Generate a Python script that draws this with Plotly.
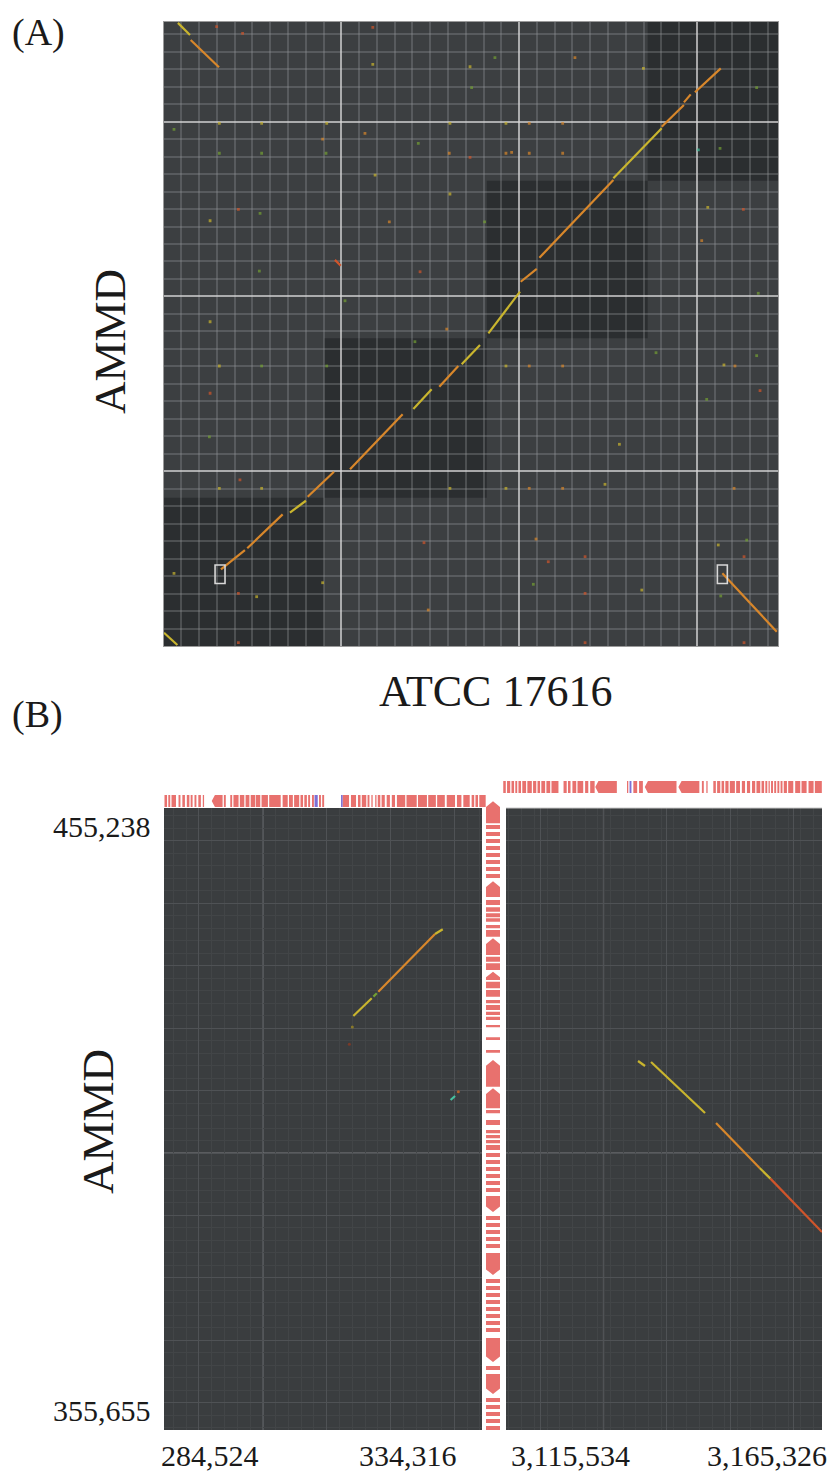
import plotly.graph_objects as go

W, H = 831, 1472
def fx(p):
    return p / W
def fy(p):
    return 1 - p / H

SERIF = "Liberation Serif, Times New Roman, serif"

# ---------------- Panel A data (Mb) ----------------
A_X_RANGE = [0, 3.456]
A_Y_RANGE = [0, 3.57]
A_BLOCK_X = [0, 0.904, 1.818, 2.723, 3.456]
A_BLOCK_Y = [0, 0.848, 1.760, 2.662, 3.57]

# alignment segments (x0, y0, x1, y1, colour key)
A_SEGMENTS = [
    (0.323, 0.439, 0.458, 0.549, "o"),
    (0.471, 0.559, 0.670, 0.753, "o"),
    (0.711, 0.763, 0.801, 0.831, "y"),
    (0.811, 0.854, 0.959, 0.997, "o"),
    (1.049, 1.011, 1.345, 1.326, "o"),
    (1.405, 1.356, 1.508, 1.469, "y"),
    (1.551, 1.483, 1.658, 1.602, "o"),
    (1.677, 1.612, 1.780, 1.722, "y"),
    (1.827, 1.789, 2.005, 2.027, "y"),
    (2.009, 2.084, 2.099, 2.157, "o"),
    (2.114, 2.221, 2.530, 2.666, "o"),
    (2.530, 2.676, 2.802, 2.962, "y"),
    (2.802, 2.971, 2.927, 3.095, "o"),
    (2.927, 3.110, 2.965, 3.156, "o"),
    (2.989, 3.168, 3.134, 3.305, "o"),
    (0.081, 3.565, 0.149, 3.496, "y"),
    (0.153, 3.467, 0.312, 3.311, "o"),
    (3.143, 0.416, 3.300, 0.245, "o"),
    (3.300, 0.245, 3.449, 0.082, "o"),
    (0.003, 0.076, 0.078, 0.006, "y"),
    (0.964, 2.209, 0.997, 2.176, "r"),
]

# isolated hits (x, y, colour key)
A_DOTS = [
    (0.299, 3.543, "r"), (0.445, 3.505, "r"), (1.177, 3.539, "r"), (1.177, 3.328, "y"),
    (1.724, 3.314, "y"), (1.733, 3.194, "g"), (0.314, 2.990, "y"), (0.552, 2.990, "y"),
    (0.918, 2.990, "y"), (1.611, 2.990, "y"), (0.059, 2.956, "g"), (0.314, 2.819, "g"),
    (0.552, 2.819, "g"), (0.914, 2.819, "g"), (1.607, 2.819, "o"), (1.433, 2.876, "g"),
    (1.190, 2.694, "y"), (0.421, 2.498, "r"), (0.262, 2.433, "y"), (0.543, 2.475, "g"),
    (0.895, 2.900, "o"), (1.443, 2.141, "r"), (0.539, 2.145, "g"), (1.611, 2.586, "y"),
    (0.262, 1.855, "y"), (1.593, 1.813, "o"), (1.724, 2.796, "r"), (1.133, 2.933, "o"),
    (1.270, 2.427, "o"), (1.021, 1.975, "g"),
    (1.864, 3.366, "g"), (2.314, 3.366, "o"), (1.926, 2.990, "y"), (2.057, 2.990, "o"),
    (2.245, 2.990, "o"), (1.926, 2.819, "o"), (1.958, 2.824, "o"), (2.057, 2.819, "o"),
    (2.245, 2.819, "o"), (3.008, 2.838, "c"), (3.130, 2.847, "g"), (3.061, 2.510, "y"),
    (3.261, 2.498, "r"), (3.027, 2.319, "o"), (3.345, 2.018, "g"), (2.699, 3.305, "y"),
    (3.336, 3.194, "g"), (1.806, 2.427, "g"),
    (0.314, 1.602, "y"), (0.552, 1.602, "g"), (0.918, 1.602, "g"), (0.314, 0.902, "y"),
    (0.552, 0.902, "y"), (1.611, 0.902, "y"), (0.421, 0.301, "r"), (0.524, 0.282, "y"),
    (0.059, 0.416, "y"), (0.421, 0.019, "r"), (1.465, 0.591, "r"), (1.489, 0.206, "o"),
    (0.258, 1.197, "g"), (0.262, 1.446, "r"), (0.430, 0.950, "r"), (1.414, 1.741, "g"),
    (0.895, 0.362, "y"),
    (1.926, 1.602, "y"), (2.057, 1.602, "o"), (2.245, 1.602, "o"), (1.926, 0.902, "y"),
    (2.057, 0.902, "o"), (2.245, 0.902, "o"), (2.483, 0.925, "y"), (2.770, 1.678, "g"),
    (3.336, 1.661, "g"), (3.152, 1.608, "y"), (3.214, 1.602, "o"), (3.355, 1.461, "r"),
    (3.055, 1.411, "g"), (2.564, 1.154, "y"), (2.371, 0.511, "r"), (2.371, 0.301, "r"),
    (2.371, 0.019, "r"), (3.265, 0.511, "r"), (3.265, 0.019, "r"), (3.120, 0.578, "y"),
    (3.280, 0.606, "g"), (3.134, 0.286, "g"), (2.690, 0.320, "y"), (2.095, 0.612, "o"),
    (2.080, 0.353, "g"), (3.209, 0.902, "o"), (2.164, 0.482, "r"),
]

# zoom boxes (x0, x1, y0, y1) in Mb
A_ZOOM_BOXES = [(0.290, 0.346, 0.358, 0.463), (3.115, 3.171, 0.358, 0.463)]

COL = {"o": "#d8872b", "y": "#c9b52e", "r": "#d0552b", "g": "#74a033", "c": "#45c2a0"}

# ---------------- Panel B data (bp) ----------------
B_Y_RANGE = [355655, 455238]
B_LEFT_RANGE = [284524, 334316]
B_RIGHT_RANGE = [3115534, 3165326]
B_Y_TICKS = ["455,238", "355,655"]
B_X_TICKS = ["284,524", "334,316", "3,115,534", "3,165,326"]

B_LEFT_SEGS = [
    (314168, 421936, 317050, 424770, "y"),
    (317311, 425037, 317843, 425571, "g"),
    (318083, 425827, 326963, 435065, "o"),
    (326963, 435065, 328168, 435817, "y"),
    (329400, 408488, 330095, 409128, "c"),
]
B_LEFT_DOTS = [(314012, 420175, "#8a7a2a"), (313542, 417406, "#7a3a28"), (330611, 409817, "#b0602a")]
B_RIGHT_SEGS = [
    (3136337, 414732, 3137440, 413931, "y"),
    (3138386, 414572, 3146896, 406407, "y"),
    (3148630, 404806, 3155500, 397600, "o"),
    (3155500, 397600, 3157200, 395900, "y"),
    (3157200, 395900, 3165326, 387355, "r"),
]

# genes (start, end, direction: 0 none, 1 forward, -1 reverse)
TOP_LEFT_GENES = [
    (284600, 285000, 0), (285200, 285500, 0), (285700, 286400, 0), (286800, 287100, 0),
    (287400, 287800, 0), (288100, 288500, 0), (288700, 289000, 0), (289300, 289600, 0),
    (289900, 290300, 0), (290600, 290800, 0), (292000, 293700, -1), (293900, 294200, 0),
    (294900, 295200, 0), (295400, 296200, 0), (296400, 297100, 0), (297300, 297900, 0),
    (298100, 298800, 0), (298900, 299600, 0), (299800, 300800, 0), (301000, 302800, 0),
    (303100, 303900, 0), (304100, 304700, 0), (304900, 305700, 0), (305900, 306300, 0),
    (306500, 306900, 0), (307100, 307400, 0), (307700, 308000, 0), (308800, 309100, 0),
    (309300, 309600, 0),
    (312500, 313500, 0), (313800, 314600, 0), (314900, 315300, 0), (315500, 316200, 0),
    (316400, 316700, 0), (317000, 317200, 0), (317600, 317800, 0), (318000, 318400, 0),
    (318600, 319100, 0), (319400, 319900, 0), (320200, 320700, 0), (321000, 322300, 0),
    (322500, 324100, 0), (324300, 325700, 0), (325900, 327100, 0), (327300, 328500, 0),
    (328800, 330100, 0), (330400, 331100, 0), (331400, 332400, 0), (332700, 333100, 0),
    (333300, 333700, 0), (333900, 334900, 0),
]
TOP_LEFT_PURPLE = [(308100, 308600, 0), (312250, 312500, 0)]

TOP_RIGHT_GENES = [
    (3115100, 3115500, 0), (3115700, 3116200, 0), (3116400, 3116800, 0), (3117000, 3117300, 0),
    (3117500, 3117900, 0), (3118100, 3118700, 0), (3118900, 3119600, 0), (3119800, 3120300, 0),
    (3120500, 3120900, 0), (3121100, 3121700, 0), (3121900, 3122500, 0), (3122700, 3123800, 0),
    (3124600, 3125100, 0), (3125300, 3125700, 0), (3126000, 3126600, 0), (3126800, 3127700, 0),
    (3128000, 3128500, 0), (3128800, 3129500, 0), (3129600, 3133000, -1), (3134600, 3134800, 0),
    (3135600, 3136200, 0), (3136500, 3137100, 0), (3137400, 3142400, -1), (3142700, 3146000, -1),
    (3146400, 3146700, 0), (3147100, 3147300, 0), (3148200, 3148600, 0), (3148800, 3149300, 0),
    (3149500, 3149900, 0), (3150100, 3150600, 0), (3150800, 3151600, 0), (3151800, 3152400, 0),
    (3152700, 3153200, 0), (3153500, 3154000, 0), (3154300, 3154800, 0), (3155000, 3155600, 0),
    (3155800, 3156200, 0), (3156400, 3156700, 0), (3156900, 3157100, 0), (3157300, 3157600, 0),
    (3157800, 3158100, 0), (3158300, 3158600, 0), (3158800, 3159100, 0), (3159300, 3159800, 0),
    (3160000, 3160800, 0), (3161100, 3161900, 0), (3162100, 3162900, 0), (3163200, 3164000, 0),
    (3164200, 3165300, 0),
]
TOP_RIGHT_PURPLE = [(3135000, 3135300, 0)]

SIDE_GENES = [
    (452800, 456300, 1),
    (451875, 452515, 0), (450754, 451394, 0), (449633, 450273, 0), (448512, 449152, 0),
    (447391, 448031, 0), (446270, 446910, 0), (445149, 445789, 0), (444028, 444668, 0),
    (441000, 443500, 1),
    (439708, 440508, 0), (438635, 439339, 0), (437738, 438379, 0), (437034, 437578, 0),
    (435977, 436506, 0), (434632, 435705, 0), (431703, 434376, 1), (430630, 431430, 0),
    (429301, 430374, 0), (427700, 429029, 1), (426371, 427428, 0), (425026, 426099, 0),
    (423970, 424498, 0), (422897, 423698, 0), (422097, 422625, 0), (421296, 421824, 0),
    (420127, 420496, 0), (418094, 418526, 0), (416061, 416493, 0), (410617, 414892, 1),
    (407159, 410361, 1), (406358, 406887, 0), (404486, 405286, 0), (403156, 403685, 0),
    (402356, 402885, 0), (401556, 402084, 0), (400483, 401284, 0),
    (399362, 400003, 0), (398241, 398882, 0), (397120, 397761, 0), (395999, 396640, 0),
    (394878, 395519, 0), (393757, 394398, 0), (390557, 393118, -1),
    (389276, 389916, 0), (388155, 388795, 0), (387034, 387674, 0), (385913, 386553, 0),
    (384792, 385432, 0), (380471, 383993, -1),
    (379190, 379830, 0), (378069, 378709, 0), (376948, 377588, 0), (375827, 376467, 0),
    (374706, 375346, 0), (373585, 374225, 0), (372464, 373104, 0), (371343, 371983, 0),
    (366542, 370384, -1), (365261, 365901, 0), (361419, 364621, -1),
    (360138, 360778, 0), (359017, 359657, 0), (357896, 358536, 0), (356775, 357415, 0),
    (355655, 356294, 0),
]

GENE_RED = "#e8716e"
GENE_PURPLE = "#7d6fd4"


def gene_polys(genes, tip, vertical=False):
    a, b = [], []
    for s, e, d in genes:
        if d == 1:
            pa = [s, e - tip, e, e - tip, s, s]
            pb = [0, 0, 0.5, 1, 1, 0]
        elif d == -1:
            pa = [s + tip, e, e, s + tip, s, s + tip]
            pb = [0, 0, 1, 1, 0.5, 0]
        else:
            pa = [s, e, e, s, s]
            pb = [0, 0, 1, 1, 0]
        a += pa + [None]
        b += pb + [None]
    return (b, a) if vertical else (a, b)


fig = go.Figure()

# ---- Panel A traces
for x0, y0, x1, y1, c in A_SEGMENTS:
    fig.add_trace(go.Scatter(x=[x0, x1], y=[y0, y1], mode="lines",
                             line=dict(color=COL[c], width=2.2), xaxis="x", yaxis="y",
                             hoverinfo="skip"))
for key in COL:
    pts = [p for p in A_DOTS if p[2] == key]
    if pts:
        fig.add_trace(go.Scatter(x=[p[0] for p in pts], y=[p[1] for p in pts], mode="markers",
                                 marker=dict(color=COL[key], size=2.8, symbol="square", opacity=0.7),
                                 xaxis="x", yaxis="y", hoverinfo="skip"))

# ---- Panel B dot-plot traces
for x0, y0, x1, y1, c in B_LEFT_SEGS:
    fig.add_trace(go.Scatter(x=[x0, x1], y=[y0, y1], mode="lines",
                             line=dict(color=COL[c], width=2.2), xaxis="x2", yaxis="y2"))
fig.add_trace(go.Scatter(x=[p[0] for p in B_LEFT_DOTS], y=[p[1] for p in B_LEFT_DOTS], mode="markers",
                         marker=dict(color=[p[2] for p in B_LEFT_DOTS], size=3), xaxis="x2", yaxis="y2"))
for x0, y0, x1, y1, c in B_RIGHT_SEGS:
    fig.add_trace(go.Scatter(x=[x0, x1], y=[y0, y1], mode="lines",
                             line=dict(color=COL[c], width=2.2), xaxis="x3", yaxis="y2"))

# ---- gene tracks
gx, gy = gene_polys(TOP_LEFT_GENES, 500)
fig.add_trace(go.Scatter(x=gx, y=gy, fill="toself", fillcolor=GENE_RED, mode="lines",
                         line=dict(width=0, color=GENE_RED), xaxis="x4", yaxis="y4"))
gx, gy = gene_polys(TOP_LEFT_PURPLE, 500)
fig.add_trace(go.Scatter(x=gx, y=gy, fill="toself", fillcolor=GENE_PURPLE, mode="lines",
                         line=dict(width=0, color=GENE_PURPLE), xaxis="x4", yaxis="y4"))
gx, gy = gene_polys(TOP_RIGHT_GENES, 500)
fig.add_trace(go.Scatter(x=gx, y=gy, fill="toself", fillcolor=GENE_RED, mode="lines",
                         line=dict(width=0, color=GENE_RED), xaxis="x5", yaxis="y5"))
gx, gy = gene_polys(TOP_RIGHT_PURPLE, 500)
fig.add_trace(go.Scatter(x=gx, y=gy, fill="toself", fillcolor=GENE_PURPLE, mode="lines",
                         line=dict(width=0, color=GENE_PURPLE), xaxis="x5", yaxis="y5"))
gx, gy = gene_polys(SIDE_GENES, 900, vertical=True)
fig.add_trace(go.Scatter(x=gx, y=gy, fill="toself", fillcolor=GENE_RED, mode="lines",
                         line=dict(width=0, color=GENE_RED), xaxis="x6", yaxis="y6"))

# ---- shapes
shapes = []
shapes.append(dict(type="rect", xref="x domain", yref="y domain", x0=0, x1=1, y0=0, y1=1,
                   fillcolor="#3c3f41", line=dict(width=0), layer="below"))
for i in range(len(A_BLOCK_X) - 1):
    shapes.append(dict(type="rect", xref="x", yref="y", x0=A_BLOCK_X[i], x1=A_BLOCK_X[i + 1],
                       y0=A_BLOCK_Y[i], y1=A_BLOCK_Y[i + 1], fillcolor="#2b2e30",
                       line=dict(width=0), layer="below"))
for x0, x1, y0, y1 in A_ZOOM_BOXES:
    shapes.append(dict(type="rect", xref="x", yref="y", x0=x0, x1=x1, y0=y0, y1=y1,
                       line=dict(color="#d8d8d8", width=1.6), fillcolor="rgba(0,0,0,0)", layer="above"))
for xr in ["x2", "x3"]:
    shapes.append(dict(type="rect", xref=xr + " domain", yref="y2 domain", x0=0, x1=1, y0=0, y1=1,
                       fillcolor="#3a3d3f", line=dict(width=0), layer="below"))
shapes.append(dict(type="line", xref="x2", yref="y2 domain", x0=300000, x1=300000, y0=0, y1=1,
                   line=dict(color="#75787b", width=1.2), layer="below"))
shapes.append(dict(type="line", xref="x3", yref="y2 domain", x0=3130900, x1=3130900, y0=0, y1=1,
                   line=dict(color="#75787b", width=1.2), layer="below"))
for xr in ["x2", "x3"]:
    shapes.append(dict(type="line", xref=xr + " domain", yref="y2", x0=0, x1=1, y0=400000, y1=400000,
                       line=dict(color="#7a7d80", width=1.2), layer="below"))
shapes.append(dict(type="line", xref="x3 domain", yref="y2 domain", x0=0, x1=1, y0=1, y1=1,
                   line=dict(color="#c8c8c8", width=1), layer="above"))

A_COMMON = dict(showgrid=True, gridcolor="rgba(215,215,215,0.72)", gridwidth=1.6,
                showticklabels=False, ticks="", zeroline=False,
                showline=True, linecolor="#9a9a9a", linewidth=1.2, mirror=True, fixedrange=True)
A_MINOR = dict(showgrid=True, gridcolor="rgba(150,153,156,0.32)", gridwidth=1.5, dtick=0.1)
B_COMMON = dict(showgrid=True, gridcolor="#4f5255", gridwidth=1,
                showticklabels=False, ticks="", zeroline=False, showline=False)
B_MINOR = dict(showgrid=True, gridcolor="#424547", gridwidth=1, dtick=2000)
NOAX = dict(showgrid=False, showticklabels=False, ticks="", zeroline=False, showline=False)

fig.update_layout(
    width=W, height=H, margin=dict(l=0, r=0, t=0, b=0),
    paper_bgcolor="white", plot_bgcolor="rgba(0,0,0,0)", showlegend=False,
    xaxis=dict(domain=[fx(163.5), fx(778)], range=A_X_RANGE, anchor="y", dtick=1, tick0=0,
               minor=A_MINOR, **A_COMMON),
    yaxis=dict(domain=[fy(646), fy(22)], range=A_Y_RANGE, anchor="x", dtick=1, tick0=0,
               minor=A_MINOR, **A_COMMON),
    xaxis2=dict(domain=[fx(164), fx(482)], range=B_LEFT_RANGE, anchor="y2", dtick=10000, tick0=0,
                minor=B_MINOR, **B_COMMON),
    xaxis3=dict(domain=[fx(506), fx(822)], range=B_RIGHT_RANGE, anchor="y2", dtick=10000, tick0=3120900,
                minor=B_MINOR, **B_COMMON),
    yaxis2=dict(domain=[fy(1430), fy(808)], range=B_Y_RANGE, anchor="x2", dtick=10000, tick0=0,
                minor=B_MINOR, **B_COMMON),
    xaxis4=dict(domain=[fx(164), fx(486)], range=[284524, 334950], anchor="y4", **NOAX),
    yaxis4=dict(domain=[fy(807), fy(795)], range=[0, 1], anchor="x4", **NOAX),
    xaxis5=dict(domain=[fx(503), fx(822)], range=[3115061, 3165326], anchor="y5", **NOAX),
    yaxis5=dict(domain=[fy(793), fy(781)], range=[0, 1], anchor="x5", **NOAX),
    xaxis6=dict(domain=[fx(486), fx(500)], range=[0, 1], anchor="y6", **NOAX),
    yaxis6=dict(domain=[fy(1430), fy(800)], range=[355655, 456520], anchor="x6", **NOAX),
    shapes=shapes,
)

ann = []
def txt(text, x, y, size, xanchor="center", yanchor="middle", angle=0):
    return dict(text=text, x=x, y=y, xref="paper", yref="paper", showarrow=False,
                xanchor=xanchor, yanchor=yanchor, textangle=angle,
                font=dict(family=SERIF, size=size, color="#1a1a1a"))

ann.append(txt("(A)", fx(10), fy(33), 38, xanchor="left"))
ann.append(txt("AMMD", fx(110), fy(342), 45, angle=-90))
ann.append(txt("ATCC 17616", fx(495), fy(692), 44))
ann.append(txt("(B)", fx(10), fy(715), 38, xanchor="left"))
ann.append(txt("AMMD", fx(98), fy(1122), 45, angle=-90))
ann.append(txt(B_Y_TICKS[0], fx(153), fy(826), 30, xanchor="right"))
ann.append(txt(B_Y_TICKS[1], fx(153), fy(1410), 30, xanchor="right"))
ann.append(txt(B_X_TICKS[0], fx(159), fy(1455), 30, xanchor="left"))
ann.append(txt(B_X_TICKS[1], fx(459), fy(1455), 30, xanchor="right"))
ann.append(txt(B_X_TICKS[2], fx(509), fy(1455), 30, xanchor="left"))
ann.append(txt(B_X_TICKS[3], fx(829), fy(1455), 30, xanchor="right"))
fig.update_layout(annotations=ann)

fig.write_html("out.html", config={"displayModeBar": False},
               post_script="document.body.style.margin='0px';document.body.style.padding='0px';"
                           "document.documentElement.style.overflow='hidden';")
